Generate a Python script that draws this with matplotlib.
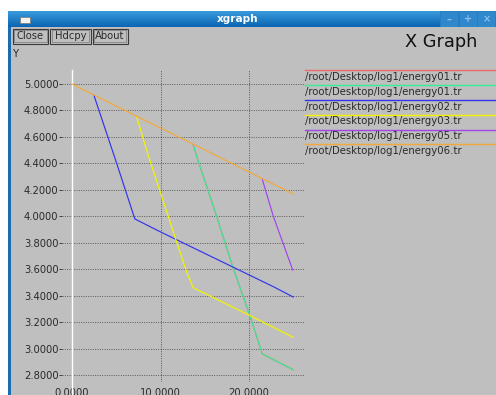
import numpy as np
import matplotlib
matplotlib.use("Agg")
import matplotlib.pyplot as plt
from matplotlib.patches import Rectangle
from matplotlib.lines import Line2D

# data
names = ["/root/Desktop/log1/energy01.tr", "/root/Desktop/log1/energy01.tr",
         "/root/Desktop/log1/energy02.tr", "/root/Desktop/log1/energy03.tr",
         "/root/Desktop/log1/energy05.tr", "/root/Desktop/log1/energy06.tr"]
colors = ["#f06868", "#38ec98", "#3434ec", "#f4f400", "#a044ec", "#f4a838"]

x01 = [13.7, 14.2, 16.2, 18.2, 20.1, 21.5, 25.0]
y01 = [4.539, 4.43, 4.03, 3.61, 3.25, 2.96, 2.84]
x02 = [2.5, 5.05, 7.1, 9.94, 22.75, 25.0]
y02 = [4.91, 4.40, 3.98, 3.884, 3.468, 3.39]
x03 = [7.3, 8.6, 9.9, 11.8, 13.0, 13.7, 20.1, 25.0]
y03 = [4.753, 4.463, 4.20, 3.81, 3.57, 3.46, 3.25, 3.085]
x05 = [21.5, 22.75, 24.94]
y05 = [4.28, 4.00, 3.594]
x06 = [0.0, 2.5, 7.3, 13.7, 21.5, 25.0]
y06 = [5.0, 4.917, 4.757, 4.545, 4.285, 4.169]

series = [(x01, y01), (x01, y01), (x02, y02), (x03, y03), (x05, y05), (x06, y06)]
yticks = [2.8, 3.0, 3.2, 3.4, 3.6, 3.8, 4.0, 4.2, 4.4, 4.6, 4.8, 5.0]
xticks = [0, 10, 20]

W, H = 496, 395
gray = "#bfbfbf"
txt = "#2a2a2a"

def fx(x):
    return x / W

def fy(y):
    return 1 - y / H

fig = plt.figure(figsize=(W / 100, H / 100), dpi=100)
fig.patch.set_facecolor("white")

# window body and left border
fig.add_artist(Rectangle((fx(8), 0), fx(W - 8), fy(11), transform=fig.transFigure,
                         facecolor="#1a6cb0", edgecolor="none", zorder=-2))
fig.add_artist(Rectangle((fx(10.5), 0), fx(W - 10.5), fy(27), transform=fig.transFigure,
                         facecolor=gray, edgecolor="none", zorder=-1))

# title bar gradient
tb = fig.add_axes([fx(8), fy(27), fx(W - 8), (27 - 11) / H])
grad = np.linspace(0, 1, 16).reshape(-1, 1)
top = np.array([0.22, 0.60, 0.86])
bot = np.array([0.05, 0.40, 0.70])
img = top + grad[..., None] * (bot - top)
tb.imshow(np.repeat(img, 10, axis=1), aspect="auto", extent=[0, 1, 0, 1])
for k in range(3):
    tb.add_patch(Rectangle(((440 - 8 + k * 18.7) / (W - 8), 0), 18 / (W - 8), 1,
                           facecolor="#2f88cc", edgecolor="#2a7cc0", lw=0.6))
tb.set_xlim(0, 1)
tb.set_ylim(0, 1)
tb.axis("off")
fig.add_artist(Rectangle((fx(20), fy(22.5)), fx(10), 6 / H, transform=fig.transFigure,
                         facecolor="#f4f4f4", edgecolor="#808080", lw=0.6))
fig.text(fx(238), fy(19), "xgraph", color="white", fontsize=7.6, fontweight="bold",
         ha="center", va="center")
for k, s in enumerate(["\u2013", "+", "\u00d7"]):
    fig.text(fx(449 + k * 18.7), fy(19.5), s, color="#8cc0ea", fontsize=7,
             fontweight="bold", ha="center", va="center")

# buttons
for label, x0, x1 in [("Close", 12.5, 48), ("Hdcpy", 50, 90.5), ("About", 92.5, 127.5)]:
    fig.add_artist(Rectangle((fx(x0), fy(43.5)), fx(x1 - x0), 14.5 / H,
                             transform=fig.transFigure, facecolor=gray,
                             edgecolor="#3a3a3a", lw=0.8))
    fig.add_artist(Rectangle((fx(x0 + 1.5), fy(42)), fx(x1 - x0 - 3), 11.5 / H,
                             transform=fig.transFigure, facecolor="none",
                             edgecolor="#7a7a7a", lw=0.5))
    fig.text(fx((x0 + x1) / 2), fy(36.3), label, color=txt, fontsize=7.2,
             ha="center", va="center")

fig.text(fx(12), fy(54), "Y", color=txt, fontsize=7.4, ha="left", va="center")
fig.text(fx(405), fy(42), "X Graph", color="#111111", fontsize=12.8,
         ha="left", va="center")

# plot area
ax = fig.add_axes([fx(62), fy(382), fx(305 - 62), (382 - 70) / H])
ax.set_facecolor("none")
ax.set_xlim(-10 / 8.85, 233 / 8.85)
ax.set_ylim(5 - (382 - 84) / 132.3, 5 + (84 - 70) / 132.3)
for sp in ax.spines.values():
    sp.set_visible(False)
ax.set_yticks(yticks)
ax.set_yticklabels(["%.4f" % v for v in yticks])
ax.set_xticks(xticks)
ax.set_xticklabels(["%.4f" % v for v in xticks])
ax.tick_params(axis="y", length=2, width=0.7, color="#404040", pad=0.5,
               labelsize=7.2, labelcolor=txt)
ax.tick_params(axis="x", length=0, pad=4.0, labelsize=7.2, labelcolor=txt)
ax.grid(True, color="#4a4a4a", lw=0.6, linestyle=(0, (1.2, 1.6)))
ax.set_axisbelow(True)
ax.axvline(0, ymin=-0.05, ymax=1, color="white", lw=1.0, clip_on=False, zorder=1.5)

for (xs, ys), c in zip(series, colors):
    ax.plot(xs, ys, color=c, lw=0.85, zorder=2)

# xgraph style key: coloured line with the file name underneath
for i, (name, c) in enumerate(zip(names, colors)):
    yl = 70 + i * 14.9
    fig.add_artist(Line2D([fx(305), 1.0], [fy(yl), fy(yl)], transform=fig.transFigure,
                          color=c, lw=1.0))
    fig.text(fx(305), fy(yl + 6.8), name, color=txt, fontsize=7.3,
             ha="left", va="center")

fig.savefig("out.png", dpi=100, facecolor=fig.get_facecolor())
